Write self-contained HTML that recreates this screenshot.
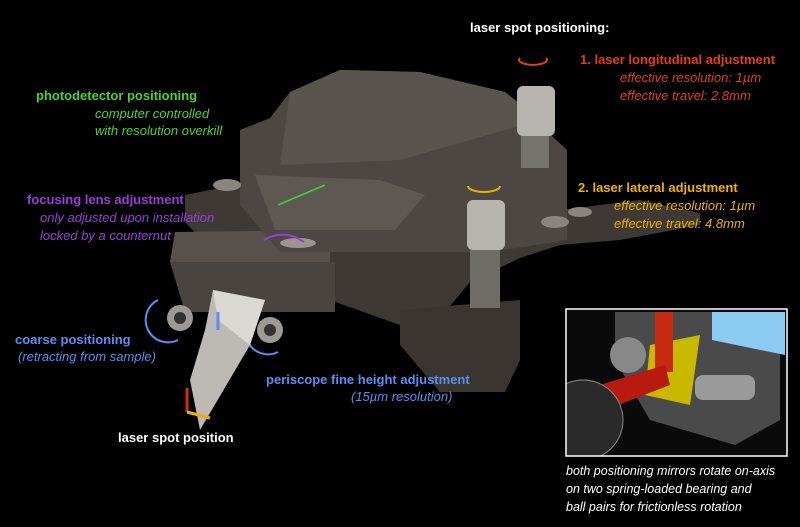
<!DOCTYPE html>
<html><head><meta charset="utf-8"><style>
body{margin:0;width:800px;height:527px;background:#000;overflow:hidden;position:relative;font-family:"Liberation Sans",sans-serif}
.t{position:absolute;font-size:13px;white-space:nowrap;line-height:16px}
.b{font-weight:bold}.i{font-style:italic}
</style></head><body>
<svg width="800" height="527" style="position:absolute;left:0;top:0">
<defs><clipPath id="c"><rect x="566" y="309" width="221" height="147"/></clipPath></defs>
<polygon points="185,195 260,180 560,210 640,200 700,213 700,225 620,240 560,245 520,258 470,282 445,312 400,325 330,300 330,265 170,265 175,248 200,238 185,222" fill="#3e3935"/>
<polygon points="170,262 335,262 335,312 185,312" fill="#4a4440"/>
<polygon points="175,232 330,230 330,262 170,262" fill="#57504b"/>
<polygon points="400,310 520,300 520,360 505,392 440,392 400,345" fill="#3a3531"/>
<polygon points="290,92 340,70 420,72 505,92 567,150 567,240 490,252 280,252 240,205 240,130 270,118" fill="#4d4743"/>
<polygon points="290,92 340,70 420,72 505,92 540,120 400,160 280,165" fill="#5a544f"/>
<polygon points="255,175 380,180 425,195 395,230 275,230" fill="#5e5853"/>
<line x1="278" y1="205" x2="325" y2="185" stroke="#3fd13a" stroke-width="1.5"/>
<ellipse cx="227" cy="185" rx="14" ry="6" fill="#8a8580"/>
<ellipse cx="555" cy="222" rx="14" ry="6" fill="#8a8580"/>
<ellipse cx="580" cy="212" rx="12" ry="5" fill="#8a8580"/>
<ellipse cx="298" cy="243" rx="18" ry="5" fill="#9a958f"/>
<rect x="517" y="86" width="38" height="50" rx="6" fill="#b7b4b0"/>
<rect x="521" y="136" width="28" height="32" fill="#77736f"/>
<rect x="467" y="200" width="38" height="50" rx="6" fill="#b7b4b0"/>
<rect x="470" y="250" width="30" height="58" fill="#6f6b67"/>
<path d="M520 58 a14 5 0 1 0 26 0" stroke="#e0401a" stroke-width="2" fill="none"/>
<path d="M468 186 a16 6 0 1 0 32 0" stroke="#f0b000" stroke-width="2" fill="none"/>
<path d="M264 240 q20 -12 40 2" stroke="#9a3fd6" stroke-width="2" fill="none"/>
<circle cx="180" cy="318" r="13" fill="#9d9a96"/><circle cx="180" cy="318" r="6" fill="#333"/>
<circle cx="270" cy="330" r="13" fill="#9d9a96"/><circle cx="270" cy="330" r="6" fill="#333"/>
<path d="M158 300 a22 22 0 0 0 20 40" stroke="#5a8ef0" stroke-width="2" fill="none"/>
<path d="M258 312 a22 22 0 0 0 20 40" stroke="#5a8ef0" stroke-width="2" fill="none"/>
<polygon points="213,290 265,300 250,345 200,430 190,380 205,330" fill="#bdbab6"/>
<polygon points="213,290 265,300 250,345 218,320" fill="#dcd9d5"/>
<line x1="218" y1="330" x2="218" y2="312" stroke="#5a8ef0" stroke-width="3"/>
<line x1="187" y1="412" x2="187" y2="388" stroke="#d03010" stroke-width="3"/>
<line x1="187" y1="412" x2="210" y2="418" stroke="#f0b000" stroke-width="3"/>
<rect x="566" y="309" width="221" height="147" fill="#0a0a0a"/>
<g clip-path="url(#c)">
<polygon points="615,312 780,312 780,420 735,445 650,420 615,360" fill="#4a4a4a"/>
<polygon points="712,312 785,312 785,355 712,340" fill="#8ccbf2"/>
<polygon points="650,345 700,335 690,405 645,395" fill="#c8b800"/>
<rect x="655" y="312" width="18" height="60" fill="#c82a10"/>
<polygon points="600,385 665,365 670,385 605,410" fill="#b81a10"/>
<circle cx="628" cy="355" r="18" fill="#888"/>
<circle cx="583" cy="420" r="40" fill="#2a2a2a" stroke="#888"/>
<rect x="695" y="375" width="60" height="25" rx="8" fill="#9a9a9a"/>
</g>
<rect x="566" y="309" width="221" height="147" fill="none" stroke="#fff" stroke-width="1.5"/>
</svg>
<div class="t b" style="left:470px;top:20px;color:#fff">laser spot positioning:</div>
<div class="t b" style="left:580px;top:52px;color:#e0401a">1. laser longitudinal adjustment</div>
<div class="t i" style="left:620px;top:70px;color:#e0401a">effective resolution: 1µm</div>
<div class="t i" style="left:620px;top:88px;color:#e0401a">effective travel: 2.8mm</div>
<div class="t b" style="left:36px;top:88px;color:#4fd13a">photodetector positioning</div>
<div class="t i" style="left:95px;top:106px;color:#4fd13a">computer controlled</div>
<div class="t i" style="left:95px;top:123px;color:#4fd13a">with resolution overkill</div>
<div class="t b" style="left:578px;top:180px;color:#f0b000">2. laser lateral adjustment</div>
<div class="t i" style="left:614px;top:198px;color:#f0b000">effective resolution: 1µm</div>
<div class="t i" style="left:614px;top:216px;color:#f0b000">effective travel: 4.8mm</div>
<div class="t b" style="left:27px;top:192px;color:#9a3fd6">focusing lens adjustment</div>
<div class="t i" style="left:40px;top:210px;color:#9a3fd6">only adjusted upon installation</div>
<div class="t i" style="left:40px;top:228px;color:#9a3fd6">locked by a counternut</div>
<div class="t b" style="left:15px;top:332px;color:#5a8ef0">coarse positioning</div>
<div class="t i" style="left:18px;top:349px;color:#5a8ef0">(retracting from sample)</div>
<div class="t b" style="left:266px;top:372px;color:#5a8ef0">periscope fine height adjustment</div>
<div class="t i" style="left:351px;top:389px;color:#5a8ef0">(15µm resolution)</div>
<div class="t b" style="left:118px;top:430px;color:#fff">laser spot position</div>
<div class="t i" style="left:566px;top:463px;color:#fff;font-size:12.5px">both positioning mirrors rotate on-axis</div>
<div class="t i" style="left:566px;top:481px;color:#fff;font-size:12.5px">on two spring-loaded bearing and</div>
<div class="t i" style="left:566px;top:499px;color:#fff;font-size:12.5px">ball pairs for frictionless rotation</div>
</body></html>
